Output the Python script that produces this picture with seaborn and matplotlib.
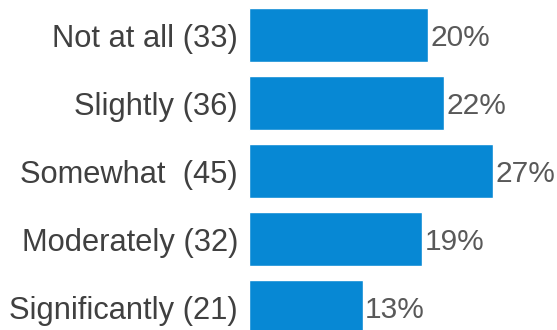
import matplotlib
matplotlib.use("Agg")
import matplotlib.pyplot as plt
import seaborn as sns
import pandas as pd

categories = ["Not at all", "Slightly", "Somewhat ", "Moderately", "Significantly"]
counts = [33, 36, 45, 32, 21]

total = sum(counts)
percents = [c / total * 100 for c in counts]
labels = [f"{cat} ({n})" for cat, n in zip(categories, counts)]

df = pd.DataFrame({"label": labels, "percent": percents})

sns.set_theme(style="white")
plt.rcParams["font.family"] = ["Liberation Sans", "DejaVu Sans"]

fig = plt.figure(figsize=(5.57, 3.30), dpi=100)
ax = fig.add_axes([249 / 557, 0, 1 - 249 / 557, 1])

sns.barplot(data=df, x="percent", y="label", orient="h", color="#0788d4",
            saturation=1, width=0.8, ax=ax)

ax.set_xlim(0, 308 / 9.05)
ax.set_ylim(4.5 - 11 / 68, -0.5 - 1 / 68)
ax.set_xlabel("")
ax.set_ylabel("")
ax.set_xticks([])
ax.tick_params(axis="y", length=0, pad=8, labelsize=22.2, labelcolor="#404040")
for s in ax.spines.values():
    s.set_visible(False)

for i, p in enumerate(percents):
    ax.text(p + 0.25, i + 0.04, f"{p:.0f}%", va="center", ha="left",
            fontsize=21.5, color="#595959")

fig.savefig("out.png", dpi=100)
